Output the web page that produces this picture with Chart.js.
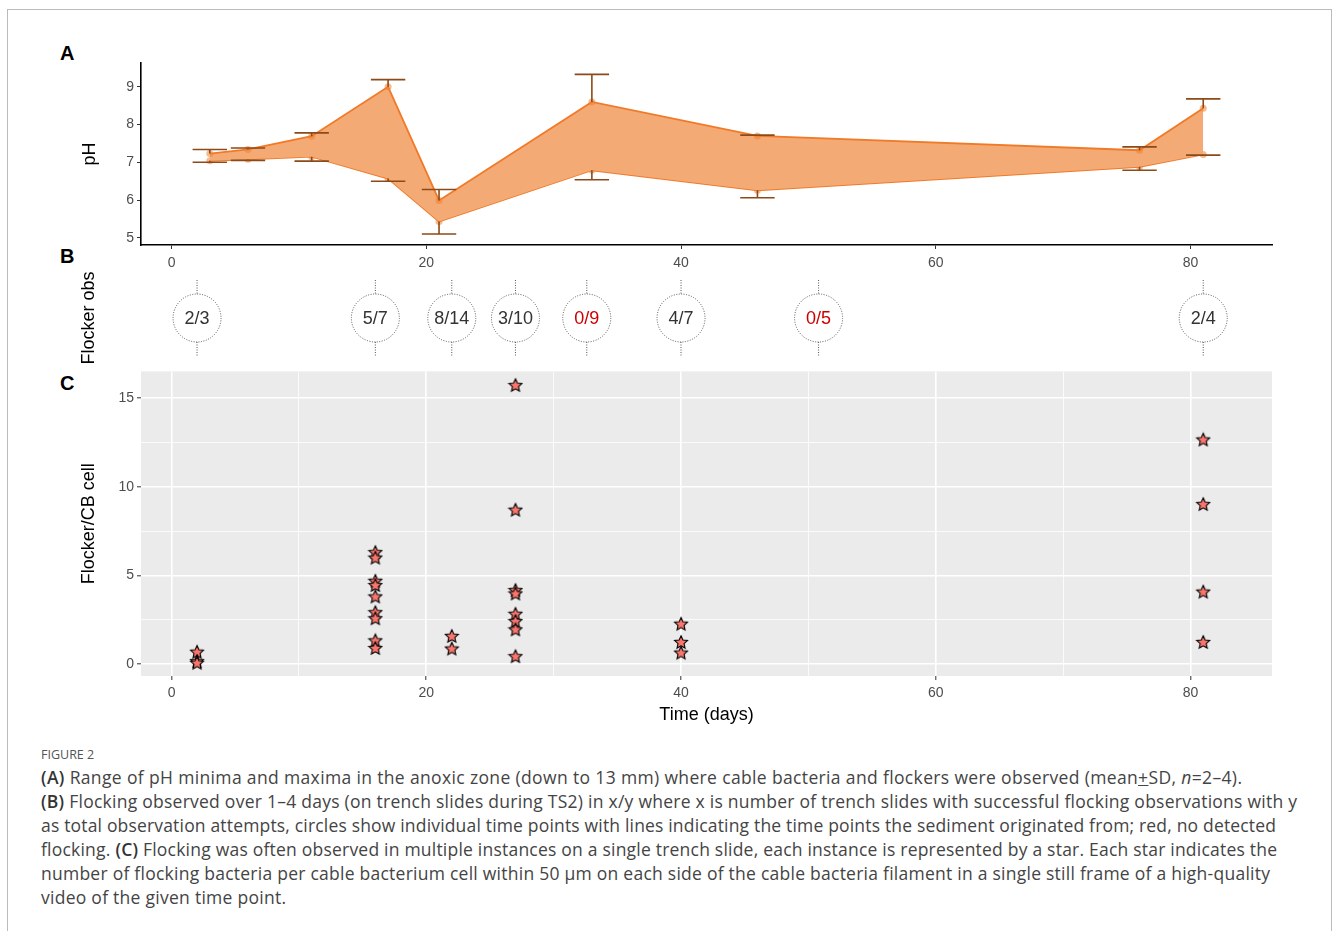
<!DOCTYPE html>
<html>
<head>
<meta charset="utf-8">
<script src="https://cdn.jsdelivr.net/npm/chart.js@4.4.1/dist/chart.umd.min.js"></script>
<style>
  body { margin: 0; background: #fff; width: 1333px; height: 931px; overflow: hidden; position: relative; font-family: "Liberation Sans", Arial, sans-serif; }
  canvas { position: absolute; left: 0; }
  .frame { position: absolute; left: 7px; top: 9px; width: 1323px; height: 960px; border: 1.5px solid #bbb; border-bottom: none; }
  .panel { position: absolute; left: 60px; font-weight: bold; font-size: 20px; color: #000; line-height: 20px; }
  .figlabel { position: absolute; left: 41px; top: 746px; font-family: "Open Sans", sans-serif; font-size: 12.5px; color: #555; }
  .caption { position: absolute; left: 41px; top: 765px; font-family: "Open Sans", sans-serif; font-size: 17.5px; line-height: 24px; color: #444; white-space: nowrap; }
  .caption div { display: block; }
  .caption span.l { display: inline-block; }
  .caption b { color: #333; font-weight: 600; }
</style>
</head>
<body>
<div class="frame"></div>
<div class="panel" style="top:43px">A</div>
<div class="panel" style="top:246px">B</div>
<div class="panel" style="top:373px">C</div>
<canvas id="chartA" width="1333" height="240" style="top:40px"></canvas>
<canvas id="chartB" width="1333" height="95" style="top:270px"></canvas>
<canvas id="chartC" width="1333" height="370" style="top:360px"></canvas>
<div class="figlabel">FIGURE 2</div>
<div class="caption">
<div><span class="l" data-w="1201"><b>(A)</b> Range of pH minima and maxima in the anoxic zone (down to 13 mm) where cable bacteria and flockers were observed (mean<u>+</u>SD, <i>n</i>=2–4).</span></div>
<div><span class="l" data-w="1256"><b>(B)</b> Flocking observed over 1–4 days (on trench slides during TS2) in x/y where x is number of trench slides with successful flocking observations with y</span></div>
<div><span class="l" data-w="1235">as total observation attempts, circles show individual time points with lines indicating the time points the sediment originated from; red, no detected</span></div>
<div><span class="l" data-w="1236">flocking. <b>(C)</b> Flocking was often observed in multiple instances on a single trench slide, each instance is represented by a star. Each star indicates the</span></div>
<div><span class="l" data-w="1229">number of flocking bacteria per cable bacterium cell within 50 μm on each side of the cable bacteria filament in a single still frame of a high-quality</span></div>
<div><span class="l" data-w="245">video of the given time point.</span></div>
</div>
<script>
// panel A: pH range per time point (days)
const phDays = [3, 6, 11, 17, 21, 33, 46, 76, 81];
const phMax = [7.23, 7.34, 7.69, 9.0, 5.99, 8.60, 7.70, 7.32, 8.43];
const phMin = [7.04, 7.08, 7.15, 6.57, 5.43, 6.79, 6.26, 6.88, 7.21];
const phMaxSd = [7.34, 7.38, 7.78, 9.19, 6.28, 9.33, 7.72, 7.41, 8.68];
const phMinSd = [7.00, 7.05, 7.03, 6.50, 5.10, 6.54, 6.06, 6.79, 7.19];
const phTicks = [5, 6, 7, 8, 9];

// panel B: flocking observations (successes/attempts)
const obsDays = [2, 16, 22, 27, 32.6, 40, 50.8, 81];
const obsSuccess = [2, 5, 8, 3, 0, 4, 0, 2];
const obsTotal = [3, 7, 14, 10, 9, 7, 5, 4];

// panel C: flockers per cable bacterium cell
const starDays = [2, 2, 2,
  16, 16, 16, 16, 16, 16, 16, 16, 16,
  22, 22,
  27, 27, 27, 27, 27, 27, 27, 27,
  40, 40, 40,
  81, 81, 81, 81];
const starValues = [0.70, 0.17, 0.08,
  6.32, 6.01, 4.70, 4.46, 3.82, 2.93, 2.59, 1.34, 0.91,
  1.59, 0.88,
  15.74, 8.71, 4.18, 3.99, 2.84, 2.43, 1.96, 0.45,
  2.28, 1.25, 0.65,
  12.67, 9.03, 4.09, 1.25];

const xTicks = [0, 20, 40, 60, 80];
const xGrid = [0, 10, 20, 30, 40, 50, 60, 70, 80];
const cTicks = [0, 2.5, 5, 7.5, 10, 12.5, 15];

const X_MIN = -2.4, X_MAX = 86.4;
const tickFont = { family: '"Liberation Sans", Arial', size: 14 };
const titleFont = { family: '"Liberation Sans", Arial', size: 18 };
const gray = '#4d4d4d';

// stretch caption lines to the widths they have in the figure
document.querySelectorAll('.caption span.l').forEach(el => {
  const target = +el.dataset.w;
  const w = el.getBoundingClientRect().width;
  const n = el.textContent.length - 1;
  el.style.letterSpacing = ((target - w) / n) + 'px';
});

Chart.defaults.animation = false;
Chart.defaults.plugins.legend.display = false;
Chart.defaults.plugins.tooltip.enabled = false;

const base = {
  responsive: false,
  maintainAspectRatio: false,
  devicePixelRatio: 1,
};

function yWidth(s) { s.width = 71; }

// --- A ---
const errorBars = {
  id: 'errorBars',
  afterDatasetsDraw(chart) {
    const { ctx, scales: { x, y } } = chart;
    ctx.save();
    ctx.strokeStyle = '#8c4a18';
    ctx.lineWidth = 1.6;
    phDays.forEach((d, i) => {
      const px = x.getPixelForValue(d);
      const hw = x.getPixelForValue(d + 1.35) - px;
      [[phMax[i], phMaxSd[i]], [phMin[i], phMinSd[i]]].forEach(([m, e]) => {
        const y0 = y.getPixelForValue(m), y1 = y.getPixelForValue(e);
        ctx.beginPath();
        ctx.moveTo(px, y0); ctx.lineTo(px, y1);
        ctx.moveTo(px - hw, y1); ctx.lineTo(px + hw, y1);
        ctx.stroke();
      });
    });
    ctx.restore();
  }
};

new Chart(document.getElementById('chartA'), {
  type: 'line',
  data: {
    datasets: [{
      data: phDays.map((d, i) => ({ x: d, y: phMax[i] })),
      borderColor: '#f07a28',
      borderWidth: 1.8,
      backgroundColor: '#f4aa74',
      fill: '+1',
      pointRadius: 3.5,
      pointBackgroundColor: 'rgba(240,128,50,0.55)',
      pointBorderWidth: 0,
      tension: 0
    }, {
      data: phDays.map((d, i) => ({ x: d, y: phMin[i] })),
      borderColor: '#f07a28',
      borderWidth: 1.8,
      fill: false,
      pointRadius: 3.5,
      pointBackgroundColor: 'rgba(240,128,50,0.55)',
      pointBorderWidth: 0,
      tension: 0
    }]
  },
  options: {
    ...base,
    layout: { padding: { left: 70, right: 61, top: 23, bottom: 0 } },
    scales: {
      x: {
        type: 'linear', min: X_MIN, max: X_MAX,
        afterBuildTicks: s => { s.ticks = xTicks.map(v => ({ value: v })); },
        afterFit: s => { s.height = 35; },
        ticks: { color: gray, font: tickFont, padding: 6 },
        grid: { drawOnChartArea: false, tickLength: 4, color: '#333' },
        border: { color: '#000', width: 1.6 }
      },
      y: {
        min: 4.81, max: 9.63,
        afterBuildTicks: s => { s.ticks = phTicks.map(v => ({ value: v })); },
        afterFit: yWidth,
        ticks: { color: gray, font: tickFont, padding: 3 },
        grid: { drawOnChartArea: false, tickLength: 4, color: '#333' },
        border: { color: '#000', width: 1.6 },
        title: { display: true, text: 'pH', color: '#000', font: titleFont, padding: { top: 9, bottom: 0 } }
      }
    }
  },
  plugins: [errorBars]
});

// --- B ---
const obsCircles = {
  id: 'obsCircles',
  afterDatasetsDraw(chart) {
    const { ctx } = chart;
    const meta = chart.getDatasetMeta(0);
    ctx.save();
    meta.data.forEach((pt, i) => {
      const cx = pt.x, cy = pt.y, r = 24;
      ctx.strokeStyle = '#555';
      ctx.lineWidth = 1;
      ctx.setLineDash([1, 1.5]);
      ctx.beginPath();
      ctx.ellipse(cx, cy, r, r, 0, 0, Math.PI * 2);
      ctx.stroke();
      ctx.beginPath();
      ctx.moveTo(cx, cy - r - 14); ctx.lineTo(cx, cy - r);
      ctx.moveTo(cx, cy + r); ctx.lineTo(cx, cy + r + 14);
      ctx.stroke();
      ctx.setLineDash([]);
      ctx.font = '18px "Liberation Sans", Arial';
      ctx.textAlign = 'center';
      ctx.textBaseline = 'middle';
      ctx.fillStyle = obsSuccess[i] === 0 ? '#cc0000' : '#333';
      ctx.fillText(obsSuccess[i] + '/' + obsTotal[i], cx, cy + 1);
    });
    ctx.restore();
  }
};

new Chart(document.getElementById('chartB'), {
  type: 'scatter',
  data: {
    datasets: [{
      data: obsDays.map(d => ({ x: d, y: 0.5 })),
      pointRadius: 0
    }]
  },
  options: {
    ...base,
    layout: { padding: { left: 70, right: 61, top: 6, bottom: 5 } },
    scales: {
      x: { type: 'linear', min: X_MIN, max: X_MAX, display: false },
      y: {
        min: 0, max: 1,
        afterFit: yWidth,
        ticks: { display: false },
        grid: { display: false },
        border: { display: false },
        title: { display: true, text: 'Flocker obs', color: '#000', font: titleFont, padding: { top: 8, bottom: 0 } }
      }
    }
  },
  plugins: [obsCircles]
});

// --- C ---
function makeStar(size, fill) {
  const c = document.createElement('canvas');
  c.width = c.height = size;
  const g = c.getContext('2d');
  const cx = size / 2, cy = size / 2 + 0.6, R = size / 2 - 1.2, r = R * 0.47;
  g.beginPath();
  for (let i = 0; i < 10; i++) {
    const a = -Math.PI / 2 + i * Math.PI / 5;
    const rr = i % 2 ? r : R;
    g.lineTo(cx + rr * Math.cos(a), cy + rr * Math.sin(a));
  }
  g.closePath();
  g.fillStyle = fill;
  g.fill();
  g.lineWidth = 1.1;
  g.strokeStyle = '#000';
  g.stroke();
  return c;
}

const panelBg = {
  id: 'panelBg',
  beforeDraw(chart) {
    const { ctx, chartArea: a } = chart;
    ctx.save();
    ctx.fillStyle = '#ebebeb';
    ctx.fillRect(a.left, a.top, a.right - a.left, a.bottom - a.top);
    ctx.restore();
  }
};

new Chart(document.getElementById('chartC'), {
  type: 'scatter',
  data: {
    datasets: [{
      data: starDays.map((d, i) => ({ x: d, y: starValues[i] })),
      pointStyle: makeStar(16, '#f8766d'),
      pointRadius: 7
    }]
  },
  options: {
    ...base,
    layout: { padding: { left: 70, right: 61, top: 9, bottom: 0 } },
    scales: {
      x: {
        type: 'linear', min: X_MIN, max: X_MAX,
        afterBuildTicks: s => { s.ticks = xGrid.map(v => ({ value: v })); },
        afterFit: s => { s.height = 54; },
        ticks: { color: gray, font: tickFont, padding: 5, callback: v => (v % 20 === 0 ? v : '') },
        grid: {
          color: '#fff',
          lineWidth: c => (c.tick && c.tick.value % 20 === 0 ? 1.6 : 0.8),
          tickColor: c => (c.tick && c.tick.value % 20 === 0 ? '#333' : 'rgba(0,0,0,0)'),
          tickWidth: 1,
          tickLength: 4
        },
        border: { display: false },
        title: { display: true, text: 'Time (days)', color: '#000', font: titleFont, padding: { top: 4, bottom: 4 } }
      },
      y: {
        min: -0.67, max: 16.51,
        afterBuildTicks: s => { s.ticks = cTicks.map(v => ({ value: v })); },
        afterFit: yWidth,
        ticks: { color: gray, font: tickFont, padding: 3, callback: v => (v % 5 === 0 ? v : '') },
        grid: {
          color: '#fff',
          lineWidth: c => (c.tick && c.tick.value % 5 === 0 ? 1.6 : 0.8),
          tickColor: c => (c.tick && c.tick.value % 5 === 0 ? '#333' : 'rgba(0,0,0,0)'),
          tickWidth: 1,
          tickLength: 4
        },
        border: { display: false },
        title: { display: true, text: 'Flocker/CB cell', color: '#000', font: titleFont, padding: { top: 8, bottom: 0 } }
      }
    }
  },
  plugins: [panelBg]
});
</script>
</body>
</html>
